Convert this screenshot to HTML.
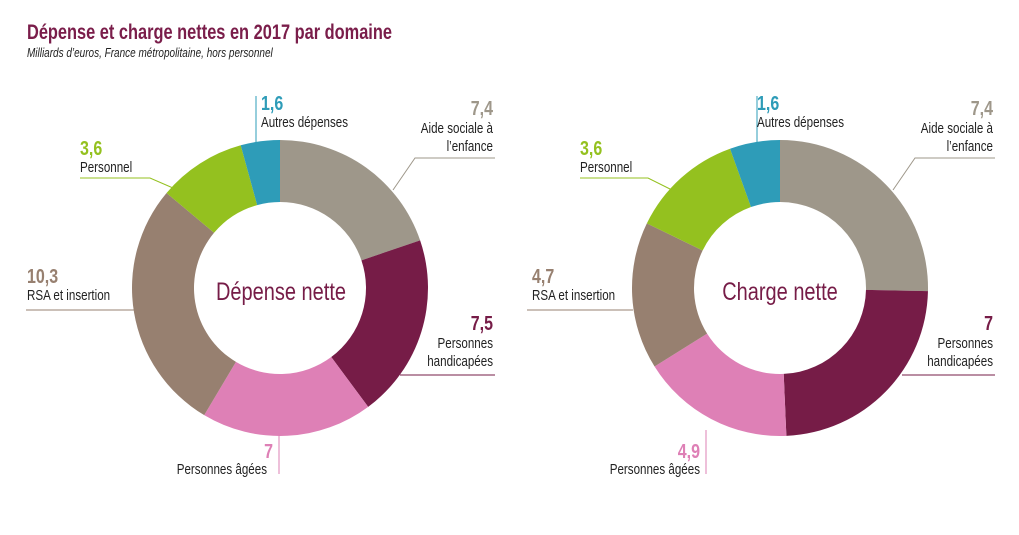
<!DOCTYPE html>
<html><head><meta charset="utf-8"><style>
body{margin:0;background:#fff;width:1019px;height:530px;overflow:hidden}
svg text{font-family:"Liberation Sans Narrow","Liberation Sans",sans-serif}
</style></head><body>
<svg id="s" width="1019" height="530" xmlns="http://www.w3.org/2000/svg">
<text x="27" y="39" font-size="21" font-weight="bold" fill="#7a1d4a" data-sx="0.78">Dépense et charge nettes en 2017 par domaine</text>
<text x="27" y="57" font-size="12.5" font-style="italic" fill="#222" data-sx="0.8">Milliards d’euros, France métropolitaine, hors personnel</text>
<g id="g"></g>
<g font-size="14.5" fill="#222">
<line x1="256" y1="96" x2="256" y2="142" stroke="#2e9cb8"/>
<text x="261" y="110" font-size="20" font-weight="bold" fill="#2e9cb8">1,6</text>
<text x="261" y="127">Autres dépenses</text>
<text x="493" y="115" font-size="20" font-weight="bold" fill="#9e978a" text-anchor="end">7,4</text>
<text x="493" y="133" text-anchor="end">Aide sociale à</text>
<text x="493" y="151" text-anchor="end">l’enfance</text>
<polyline points="393,190 415,158 495,158" fill="none" stroke="#9e978a"/>
<text x="80" y="155" font-size="20" font-weight="bold" fill="#94c11f">3,6</text>
<text x="80" y="172">Personnel</text>
<polyline points="80,178 150,178 173,188" fill="none" stroke="#94c11f"/>
<text x="27" y="283" font-size="20" font-weight="bold" fill="#978070">10,3</text>
<text x="27" y="300">RSA et insertion</text>
<line x1="26" y1="310" x2="135" y2="310" stroke="#978070"/>
<text x="493" y="330" font-size="20" font-weight="bold" fill="#761c47" text-anchor="end">7,5</text>
<text x="493" y="348" text-anchor="end">Personnes</text>
<text x="493" y="366" text-anchor="end">handicapées</text>
<line x1="400" y1="375" x2="495" y2="375" stroke="#761c47"/>
<text x="273" y="458" font-size="20" font-weight="bold" fill="#de80b6" text-anchor="end">7</text>
<text x="267" y="474" text-anchor="end">Personnes âgées</text>
<line x1="279" y1="435" x2="279" y2="474" stroke="#de80b6"/>
<text x="281" y="300" font-size="25" fill="#761c47" text-anchor="middle">Dépense nette</text>
<line x1="757" y1="96" x2="757" y2="142" stroke="#2e9cb8"/>
<text x="757" y="110" font-size="20" font-weight="bold" fill="#2e9cb8">1,6</text>
<text x="757" y="127">Autres dépenses</text>
<text x="993" y="115" font-size="20" font-weight="bold" fill="#9e978a" text-anchor="end">7,4</text>
<text x="993" y="133" text-anchor="end">Aide sociale à</text>
<text x="993" y="151" text-anchor="end">l’enfance</text>
<polyline points="893,190 915,158 995,158" fill="none" stroke="#9e978a"/>
<text x="580" y="155" font-size="20" font-weight="bold" fill="#94c11f">3,6</text>
<text x="580" y="172">Personnel</text>
<polyline points="580,178 648,178 672,190" fill="none" stroke="#94c11f"/>
<text x="532" y="283" font-size="20" font-weight="bold" fill="#978070">4,7</text>
<text x="532" y="300">RSA et insertion</text>
<line x1="527" y1="310" x2="633" y2="310" stroke="#978070"/>
<text x="993" y="330" font-size="20" font-weight="bold" fill="#761c47" text-anchor="end">7</text>
<text x="993" y="348" text-anchor="end">Personnes</text>
<text x="993" y="366" text-anchor="end">handicapées</text>
<line x1="902" y1="375" x2="995" y2="375" stroke="#761c47"/>
<text x="700" y="458" font-size="20" font-weight="bold" fill="#de80b6" text-anchor="end">4,9</text>
<text x="700" y="474" text-anchor="end">Personnes âgées</text>
<line x1="706" y1="430" x2="706" y2="474" stroke="#de80b6"/>
<text x="780" y="300" font-size="25" fill="#761c47" text-anchor="middle">Charge nette</text>
</g>
</svg>
<script>
var cols=["#9e978a","#761c47","#de80b6","#978070","#94c11f","#2e9cb8"];
function donut(cx,cy,R,r,vals){
 var t=vals.reduce(function(a,b){return a+b},0),a=0,h="";
 vals.forEach(function(v,i){
  var a0=a/t*2*Math.PI,a1=(a+v)/t*2*Math.PI;a+=v;
  function p(rr,an){return (cx+rr*Math.sin(an)).toFixed(2)+","+(cy-rr*Math.cos(an)).toFixed(2)}
  var lg=(a1-a0)>Math.PI?1:0;
  h+='<path fill="'+cols[i]+'" d="M'+p(R,a0)+' A'+R+','+R+' 0 '+lg+' 1 '+p(R,a1)+' L'+p(r,a1)+' A'+r+','+r+' 0 '+lg+' 0 '+p(r,a0)+' Z"/>';
 });
 return h;
}
document.getElementById("g").innerHTML=donut(280,288,148,86,[7.4,7.5,7,10.3,3.6,1.6])+donut(780,288,148,86,[7.4,7,4.9,4.7,3.6,1.6]);
var ts=document.querySelectorAll("svg text");
for(var i=0;i<ts.length;i++){var e=ts[i],x=+e.getAttribute("x"),s=e.getAttribute("data-sx")||"0.8";
 e.setAttribute("transform","translate("+x+",0) scale("+s+",1) translate("+(-x)+",0)");}
</script>
</body></html>
